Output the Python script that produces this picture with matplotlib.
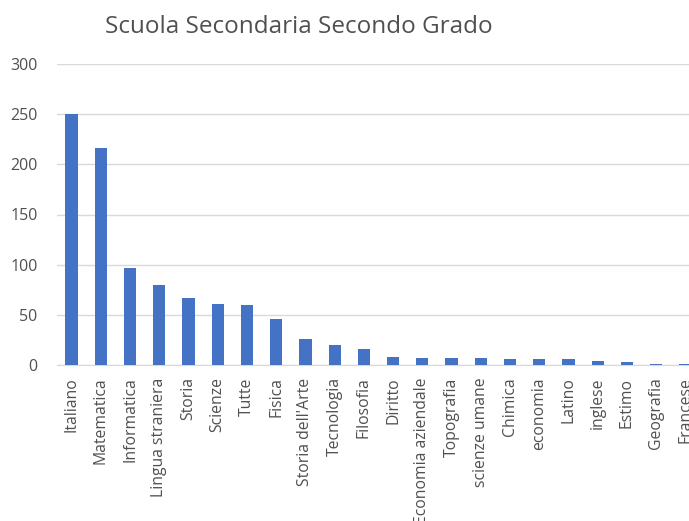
import matplotlib
matplotlib.use("Agg")
import matplotlib.pyplot as plt

plt.rcParams['font.family'] = ['Open Sans', 'DejaVu Sans']

materie = ["Italiano", "Matematica", "Informatica", "Lingua straniera", "Storia",
           "Scienze", "Tutte", "Fisica", "Storia dell'Arte", "Tecnologia",
           "Filosofia", "Diritto", "Economia aziendale", "Topografia",
           "scienze umane", "Chimica", "economia", "Latino", "inglese",
           "Estimo", "Geografia", "Francese"]
valori = [250, 216, 97, 80, 67, 61, 60, 46, 26, 20, 16, 8, 7, 7, 7, 6, 6, 6, 4, 3, 1, 1]
y_ticks = [0, 50, 100, 150, 200, 250, 300]

fig = plt.figure(figsize=(6.89, 5.21), dpi=100)
# axes runs a bit past the right edge, as in the cropped screenshot
ax = fig.add_axes([57 / 689, 1 - 365 / 521, 643 / 689, 301 / 521])

x = range(len(materie))
ax.bar(x, valori, width=0.42, color="#4472C4", zorder=3)

ax.set_xlim(-0.5, len(materie) - 0.5)
ax.set_ylim(0, 300)
ax.set_yticks(y_ticks)
ax.set_xticks(list(x))
ax.set_xticklabels(materie, rotation=90, fontsize=11.3, color="#505050")
ax.tick_params(axis="y", labelsize=11.5, labelcolor="#505050", length=0, pad=14)
ax.tick_params(axis="x", length=0, pad=9)
ax.grid(axis="y", color="#d9d9d9", linewidth=1, zorder=0)
for s in ["top", "right", "left"]:
    ax.spines[s].set_visible(False)
ax.spines["bottom"].set_color("#d9d9d9")

fig.text(299 / 689, 1 - 27 / 521, "Scuola Secondaria Secondo Grado",
         ha="center", va="center", fontsize=17.5, color="#505050")

fig.savefig("out.png", dpi=100)
